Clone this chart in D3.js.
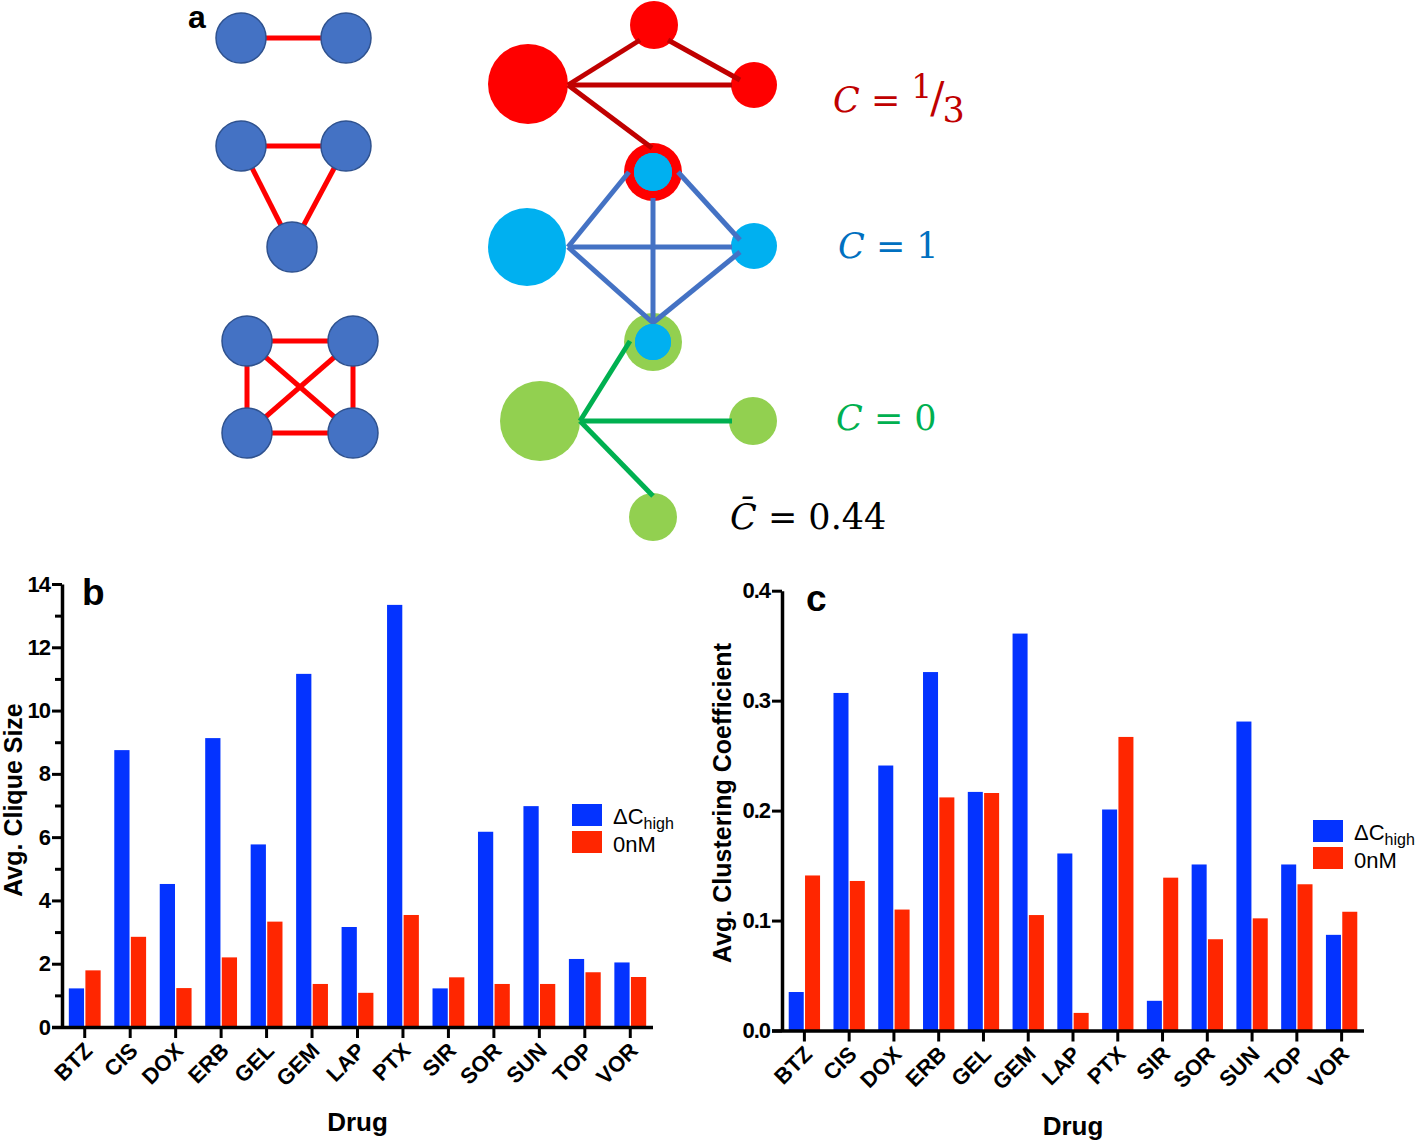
<!DOCTYPE html>
<html><head><meta charset="utf-8">
<script src="https://cdn.jsdelivr.net/npm/d3@7"></script>
<style>body{margin:0;background:#fff}svg{display:block}</style>
</head><body>
<svg id="chart" width="1416" height="1141"></svg>
<script>
// ---------------- data ----------------
const drugs = ["BTZ","CIS","DOX","ERB","GEL","GEM","LAP","PTX","SIR","SOR","SUN","TOP","VOR"];
const cliqueHigh = [1.22,8.75,4.52,9.13,5.77,11.16,3.16,13.34,1.22,6.17,6.98,2.15,2.04];
const cliqueZero = [1.79,2.85,1.23,2.20,3.33,1.36,1.08,3.54,1.57,1.36,1.36,1.73,1.58];
const clustHigh = [0.035,0.307,0.241,0.326,0.217,0.361,0.161,0.201,0.027,0.151,0.281,0.151,0.087];
const clustZero = [0.141,0.136,0.110,0.212,0.216,0.105,0.016,0.267,0.139,0.083,0.102,0.133,0.108];
const cliqueTicks = [0,2,4,6,8,10,12,14];
const clustTicks = [0,0.1,0.2,0.3,0.4];
const seriesNames = ["high","0nM"];

const BLUE = "#0433FF", RED = "#FF2600";
const svg = d3.select("#chart");
const FONT = "'Liberation Sans', Arial, sans-serif";

// ---------------- panel a (diagram) ----------------
const aNodes = {
  l1:[241,38,25], l2:[346,38,25],
  t1:[241,146,25], t2:[346,146,25], t3:[292,247,25],
  s1:[247,341,25], s2:[353,341,25], s3:[247,433,25], s4:[353,433,25]
};
const aEdges = [["l1","l2"],["t1","t2"],["t1","t3"],["t2","t3"],
  ["s1","s2"],["s3","s4"],["s1","s3"],["s2","s4"],["s1","s4"],["s2","s3"]];
const ga = svg.append("g");
aEdges.forEach(([a,b])=>{
  ga.append("line").attr("x1",aNodes[a][0]).attr("y1",aNodes[a][1])
    .attr("x2",aNodes[b][0]).attr("y2",aNodes[b][1])
    .attr("stroke","#FF0000").attr("stroke-width",5);
});
Object.values(aNodes).forEach(([x,y,r])=>{
  ga.append("circle").attr("cx",x).attr("cy",y).attr("r",r)
    .attr("fill","#4472C4").attr("stroke","#2F528F").attr("stroke-width",1.5);
});

// right network
const netEdges = [
  [568,85,640,40,"#C00000"],[668,40,740,80,"#C00000"],[568,85,732,85,"#C00000"],[568,85,652,148,"#C00000"],
  [568,247,629,172,"#4472C4"],[568,247,732,247,"#4472C4"],[568,247,652,322,"#4472C4"],
  [653,198,653,324,"#4472C4"],[678,172,740,240,"#4472C4"],[740,252,654,322,"#4472C4"],
  [580,421,630,341,"#00B050"],[580,421,732,421,"#00B050"],[580,421,653,496,"#00B050"]
];
const gn = svg.append("g");
const netNodes = [
  [528,84,40,"#FF0000"],[654,25,24,"#FF0000"],[754,85,23,"#FF0000"],
  [653,172,29,"#FF0000"],[653,172,19,"#00B0F0"],
  [527,247,39,"#00B0F0"],[754,246,23,"#00B0F0"],
  [653,342,29,"#92D050"],[653,342,18,"#00B0F0"],
  [540,421,40,"#92D050"],[753,421,24,"#92D050"],[653,517,24,"#92D050"]
];
netNodes.forEach(([x,y,r,c])=>{
  gn.append("circle").attr("cx",x).attr("cy",y).attr("r",r).attr("fill",c);
});
netEdges.forEach(([x1,y1,x2,y2,c])=>{
  gn.append("line").attr("x1",x1).attr("y1",y1).attr("x2",x2).attr("y2",y2)
    .attr("stroke",c).attr("stroke-width",5);
});
[[653,172,19],[653,342,18]].forEach(([x,y,r])=>{
  gn.append("circle").attr("cx",x).attr("cy",y).attr("r",r).attr("fill","#00B0F0");
});

const MATH = "'DejaVu Serif', 'Liberation Serif', serif";
function mathLabel(x,y,color,parts){
  const t = svg.append("text").attr("x",x).attr("y",y).attr("fill",color)
    .attr("font-family",MATH).attr("font-size",35);
  parts.forEach(p=>{
    const s = t.append("tspan").text(p.t);
    if(p.i) s.attr("font-style","italic");
    if(p.dy) s.attr("dy",p.dy);
    if(p.fs) s.attr("font-size",p.fs);
    if(p.dx) s.attr("dx",p.dx);
  });
  return t;
}
mathLabel(833,112,"#C00000",[{t:"C",i:1},{t:" = "},{t:"1",dy:-14,fs:33},{t:"/",dy:14,fs:42,dx:-2},{t:"3",dy:10,fs:35,dx:-2}]);
mathLabel(838,258,"#0070C0",[{t:"C",i:1},{t:" = 1"}]);
mathLabel(836,430,"#00B050",[{t:"C",i:1},{t:" = 0"}]);
mathLabel(730,529,"#000",[{t:"C̄",i:1},{t:" = 0.44"}]);

svg.append("text").attr("x",188).attr("y",28).text("a")
  .attr("font-family",FONT).attr("font-weight","bold").attr("font-size",32);

// ---------------- bar chart panels ----------------
function barPanel(o){
  const g = svg.append("g");
  const x = d3.scaleBand().domain(drugs).range([o.x0,o.x1]).paddingInner(0.3).paddingOuter(0.15);
  const xs = d3.scaleBand().domain(seriesNames).range([0,x.bandwidth()]).paddingInner(0.08);
  const y = d3.scaleLinear().domain([0,o.max]).range([o.y0,o.yTop]);
  const groups = g.selectAll("g.grp").data(drugs).join("g")
    .attr("transform",d=>`translate(${x(d)},0)`);
  groups.append("rect").attr("x",xs("high")).attr("width",xs.bandwidth())
    .attr("y",(d,i)=>y(o.high[i])).attr("height",(d,i)=>y(0)-y(o.high[i])).attr("fill",BLUE);
  groups.append("rect").attr("x",xs("0nM")).attr("width",xs.bandwidth())
    .attr("y",(d,i)=>y(o.zero[i])).attr("height",(d,i)=>y(0)-y(o.zero[i])).attr("fill",RED);

  const ya = g.append("g").attr("transform",`translate(${o.x0},0)`)
    .call(d3.axisLeft(y).tickValues(o.ticks).tickFormat(o.fmt).tickSize(10).tickSizeOuter(0));
  ya.select(".domain").attr("stroke-width",3.5);
  ya.selectAll(".tick line").attr("stroke-width",3);
  ya.selectAll("text").attr("font-family",FONT).attr("font-weight","bold").attr("font-size",22)
    .attr("dx",1).attr("letter-spacing","-1");
  if(o.minor){
    g.append("g").attr("transform",`translate(${o.x0},0)`)
      .call(d3.axisLeft(y).tickValues(o.minor).tickFormat("").tickSize(7).tickSizeOuter(0))
      .call(s=>s.select(".domain").remove())
      .selectAll(".tick line").attr("stroke-width",3);
  }
  const xa = g.append("g").attr("transform",`translate(0,${o.y0})`)
    .call(d3.axisBottom(x).tickSize(11).tickSizeOuter(0));
  xa.select(".domain").attr("stroke-width",3.5).attr("d",`M${o.x0-10},0.5H${o.x1}`);
  xa.selectAll(".tick line").attr("stroke-width",3);
  xa.selectAll("text").attr("font-family",FONT).attr("font-weight","bold").attr("font-size",22)
    .attr("text-anchor","end").attr("dy",0).attr("y",0)
    .attr("transform","translate(9,25) rotate(-45)");

  g.append("text").attr("x",(o.x0+o.x1)/2).attr("y",o.y0+104).attr("text-anchor","middle")
    .attr("font-family",FONT).attr("font-weight","bold").attr("font-size",26).text("Drug");
  g.append("text").attr("transform",`translate(${o.titleX},${o.titleY}) rotate(-90)`)
    .attr("text-anchor","middle").attr("font-family",FONT).attr("font-weight","bold")
    .attr("font-size",25).text(o.title);
  g.append("text").attr("x",o.letterX).attr("y",o.letterY).attr("font-family",FONT)
    .attr("font-weight","bold").attr("font-size",37).text(o.letter);
  const lg = g.append("g").attr("transform",`translate(${o.legX},${o.legY})`);
  lg.append("rect").attr("x",0).attr("y",0).attr("width",30).attr("height",22).attr("fill",BLUE);
  lg.append("rect").attr("x",0).attr("y",27).attr("width",30).attr("height",22).attr("fill",RED);
  const t1 = lg.append("text").attr("x",41).attr("y",20).attr("font-family",FONT).attr("font-size",22);
  t1.append("tspan").text("ΔC");
  t1.append("tspan").text("high").attr("font-size",16).attr("dy",5);
  lg.append("text").attr("x",41).attr("y",48).attr("font-family",FONT).attr("font-size",22).text("0nM");
}

barPanel({x0:62,x1:653,y0:1027,yTop:584,max:14,ticks:cliqueTicks,fmt:d3.format("d"),
  minor:[1,3,5,7,9,11,13],high:cliqueHigh,zero:cliqueZero,title:"Avg. Clique Size",
  titleX:22,titleY:800,letter:"b",letterX:82,letterY:605,legX:572,legY:804});
barPanel({x0:782,x1:1364,y0:1030.5,yTop:590.7,max:0.4,ticks:clustTicks,fmt:d3.format(".1f"),
  minor:null,high:clustHigh,zero:clustZero,title:"Avg. Clustering Coefficient",
  titleX:731,titleY:803,letter:"c",letterX:806,letterY:611,legX:1313,legY:820});
</script>
</body></html>
